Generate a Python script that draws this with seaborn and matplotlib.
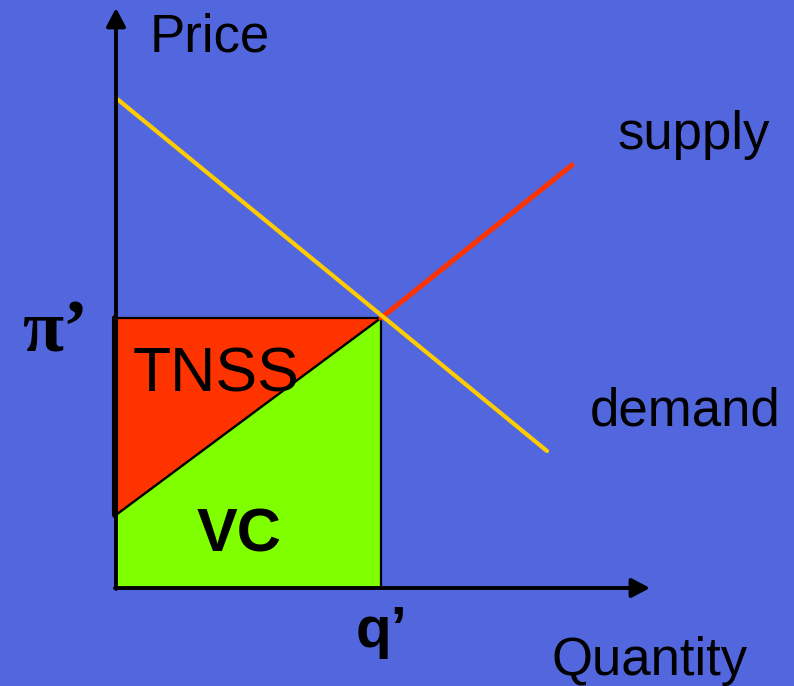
import numpy as np
import pandas as pd
import matplotlib.pyplot as plt
import seaborn as sns

# curve end points (pixel-like units, origin at the axes corner)
demand_q = [0, 431]
demand_p = [490, 137]
supply_q = [0, 456]
supply_p = [73, 423]
q_eq = 265          # q'
p_eq = 270          # pi'
supply_intercept = 73

bg = "#5267DD"
red = "#FF3300"
green = "#80FF00"
yellow = "#FFCC00"

sns.set_theme(style="white")
plt.rcParams["font.family"] = ["Liberation Sans", "DejaVu Sans"]

fig = plt.figure(figsize=(7.94, 6.86), dpi=100, facecolor=bg)
ax = fig.add_axes([0, 0, 1, 1])
ax.set_facecolor(bg)
ax.set_xlim(-116, 678)
ax.set_ylim(-98, 588)
ax.axis("off")

# areas
ax.fill([0, q_eq, 0], [p_eq, p_eq, supply_intercept], color=red, ec="black", lw=1.6, zorder=3)
ax.fill([0, q_eq, q_eq, 0], [supply_intercept, p_eq, 0, 0], color=green, ec="black", lw=1.6, zorder=3)
ax.plot([-1, -1], [supply_intercept, p_eq], color="black", lw=4.4, zorder=4)

# supply & demand lines
sup = pd.DataFrame({"q": [q_eq, supply_q[1]], "p": [p_eq, supply_p[1]]})
dem = pd.DataFrame({"q": demand_q, "p": demand_p})
sns.lineplot(data=sup, x="q", y="p", color=red, lw=3.6, ax=ax, zorder=5)
sns.lineplot(data=dem, x="q", y="p", color=yellow, lw=3, ax=ax, zorder=6)

# axes arrows
arrow = dict(arrowstyle="-|>,head_length=1.1,head_width=0.58", mutation_scale=10,
             color="black", lw=2.8, shrinkA=0, shrinkB=0)
ax.annotate("", xy=(0, 580), xytext=(0, -1), arrowprops=arrow, zorder=7)
ax.annotate("", xy=(534, 0), xytext=(-1, 0), arrowprops=arrow, zorder=7)

# labels
ax.text(34, 550, "Price", fontsize=38, ha="left", va="center", color="black")
ax.text(501, 439, "supply", fontsize=38, ha="left", va="baseline", color="black")
ax.text(474, 163, "demand", fontsize=38, ha="left", va="baseline", color="black")
ax.text(435, -87, "Quantity", fontsize=38, ha="left", va="baseline", color="black")
ax.text(17, 196, "TNSS", fontsize=45, ha="left", va="baseline", color="black", zorder=8)
ax.text(81, 36, "VC", fontsize=44, fontweight="bold", ha="left", va="baseline", color="black", zorder=8)
ax.text(240, -59, "q\u2019", fontsize=42, fontweight="bold", ha="left", va="baseline", color="black")
ax.text(-94, 236, "\u03c0\u2019", fontsize=54, fontweight="bold", ha="left", va="baseline",
        color="black", family=["Liberation Serif", "DejaVu Serif"])

fig.savefig("out.png", dpi=100, facecolor=bg)
